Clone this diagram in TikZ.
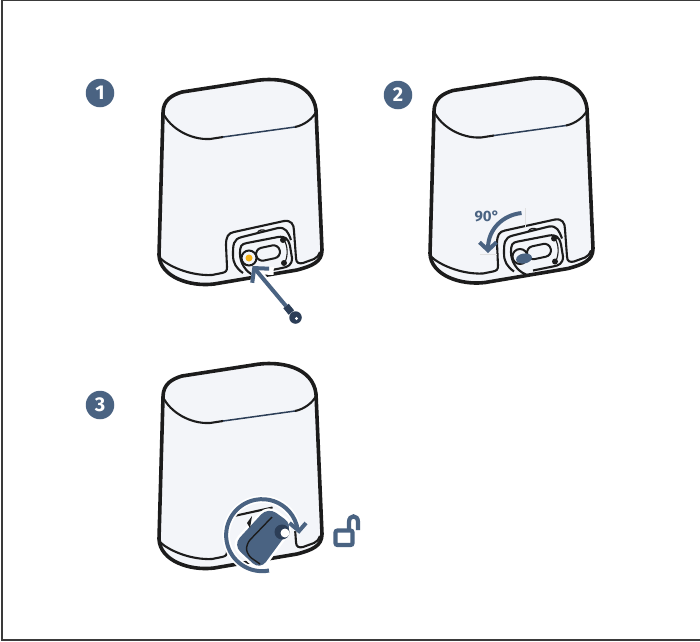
\documentclass[tikz,border=0pt]{standalone}
\usepackage{fontspec}
\setmainfont{Fira Sans}
\usetikzlibrary{arrows.meta, positioning, shapes.geometric}
\definecolor{dockink}{HTML}{1C1C1C}
\definecolor{dockbg}{HTML}{F3F5F9}
\definecolor{dockblue}{HTML}{4A6382}
\definecolor{docknavy}{HTML}{2C3E57}
\definecolor{dockamber}{HTML}{F5B21A}
\definecolor{dockframe}{HTML}{3A3A3A}
\tikzset{
  badge/.style={circle, fill=dockblue, text=white, minimum size=28.5pt, inner sep=0pt, font=\fontsize{20}{20}\selectfont\bfseries},
  shell/.style={draw=dockink, line width=3.6pt, line join=round},
  thinline/.style={draw=dockink, line width=2.1pt, line join=round},
  cueline/.style={draw=dockblue, line width=4pt},
  halo/.style={draw=white, line width=8pt},
  pics/dockbody/.style={code={
    \draw[shell, fill=dockbg] (163,113) .. controls (163,100) and (172,95) .. (182,92) -- (253,81)
      .. controls (280,76) and (313,83) .. (316,110) -- (322,250)
      .. controls (322,262) and (312,266) .. (297,270) -- (214,284)
      .. controls (190,287) and (160,277) .. (159,255) -- cycle;
    \draw[thinline] (163,113) .. controls (170,128) and (190,140) .. (210,139) -- (223,137);
    \draw[draw=docknavy, line width=1.5pt] (223,137) -- (295,127);
    \draw[thinline] (295,127) .. controls (305,125) and (313,118) .. (316,112);
    \draw[thinline] (160,258) .. controls (168,266) and (190,276) .. (212,275) -- (222,273)
      .. controls (226,272) and (227,271) .. (227,267) -- (226,245)
      .. controls (226,237) and (228,233) .. (234,232) -- (284,221)
      .. controls (291,220) and (294,224) .. (294,231) -- (296,258)
      .. controls (296,263) and (299,264) .. (303,263) -- (314,259) .. controls (317,258) and (319,255) .. (320,252);
  }},
  pics/dockplate/.style={code={
    \draw[thinline] (243,273) .. controls (236,268) and (233,263) .. (233,255)
      .. controls (233,245) and (233,239) .. (242,237) -- (278,228)
      .. controls (286,227) and (288,232) .. (291,240);
    \draw[thinline] (255,276) .. controls (245,272) and (240,262) .. (240,254)
      .. controls (240,246) and (241,244) .. (247,243) -- (278,237)
      .. controls (285,236) and (288,238) .. (290,246) -- (292,258)
      .. controls (292,265) and (288,267) .. (282,268) -- (262,272);
    \draw[thinline, line width=1.2pt] (257,233) .. controls (259,229.5) and (263,229) .. (266,231);
    \draw[thinline, line width=1.1pt] (284,240) .. controls (288,246) and (288,256) .. (285,262);
    \node[draw=dockink, line width=2pt, rounded corners=6.3pt, minimum width=24pt, minimum height=13pt, inner sep=0pt, rotate=12] (slot) at (268,253) {};
    \node[circle, fill=dockink, minimum size=6pt, inner sep=0pt] (screwa) at (283,240) {};
    \node[circle, fill=dockink, minimum size=6pt, inner sep=0pt] (screwb) at (284,263) {};
    \node[circle, draw=dockink, line width=2pt, minimum size=15pt, inner sep=0pt] (port) at (249,258) {};
  }}
}
\begin{document}
\begin{tikzpicture}[x=1pt, y=-1pt]
\useasboundingbox (0,0) rectangle (700,641);
\draw[dockframe, line width=1.2pt] (700,0.5) -- (2,0.5) -- (2,640) -- (700,640);

\node[badge] (stepone) at (100,93) {1};
\node[badge] (steptwo) at (398,95) {2};
\node[badge] (stepthree) at (100,405) {3};

\pic (dockone) at (0,0) {dockbody};
\pic (dockone) at (0,0) {dockplate};
\pic (docktwo) at (271,-1.5) {dockbody};
\pic (docktwo) at (271,-1.5) {dockplate};
\pic (dockthree) at (0,284) {dockbody};

\node[circle, fill=dockamber, minimum size=7pt, inner sep=0pt] (hole) at (249,258) {};
\coordinate (pinend) at (286,306);
\coordinate (pintip) at (252.5,266);
\draw[halo, -{Straight Barb[length=12pt,width=26pt,line width=8pt]}] (pinend) -- (pintip);
\draw[cueline, -{Straight Barb[length=10pt,width=22pt,line width=4pt]}] (pinend) -- (pintip);
\node[circle, fill=docknavy, minimum size=12.5pt, inner sep=0pt] (pinhead) at (295.5,317.5) {};
\draw[docknavy, line width=7pt] (pinend) -- (pinhead);
\node[circle, fill=white, minimum size=3.2pt, inner sep=0pt] (pineye) at (296.5,318.5) {};

\node[ellipse, fill=dockblue, minimum width=16pt, minimum height=10pt, inner sep=0pt, rotate=10] (keytwo) at (524,258.5) {};
\node[font=\fontsize{15}{15}\selectfont\bfseries, text=dockblue, inner sep=0pt] (anglelabel) at (487,216) {90°};
\coordinate (turnstart) at (521.5,213);
\coordinate (turnend) at (488,253);
\draw[black!12, line width=0.6pt] (525,208) -- (525,228);
\draw[black!12, line width=0.6pt] (480,254.5) -- (497,254.5);
\draw[cueline, -{Straight Barb[length=8pt,width=17pt,line width=4pt]}] (turnstart) .. controls (503,215) and (488,229) .. (turnend);

\fill[dockbg] (271,502) -- (302,502) -- (302,531) -- (280,531) -- cycle;
\draw[white, line width=5pt, rounded corners=10pt] (268,507) -- (293,525) -- (260,570) -- (233,545) -- cycle;
\fill[dockblue, rounded corners=10pt] (268,507) -- (293,525) -- (260,570) -- (233,545) -- cycle;
\fill[dockink] (247,523) -- (252,516) -- (250,528) -- cycle;
\draw[dockink, line width=1.4pt, rounded corners=6pt] (272,517) -- (246,544) -- (247,555) -- (260,564);
\node[circle, fill=docknavy, minimum size=15pt, inner sep=0pt] (keynub) at (282,532) {};
\node[circle, fill=white, minimum size=9pt, inner sep=0pt] (keyeye) at (285,533) {};

\coordinate (ringstart) at (269,570.5);
\coordinate (ringend) at (299,531);
\draw[white, line width=7.5pt] (ringstart) arc[start angle=-79, delta angle=-272, radius=36pt];
\draw[cueline] (ringstart) arc[start angle=-79, delta angle=-272, radius=36pt] coordinate (ringtip);
\draw[cueline] (289.5,523) -- (ringend) -- (306,523);

\draw[cueline, rounded corners=2pt, line width=4.2pt] (335.5,530.5) rectangle (352.5,545);
\draw[cueline, line width=4.2pt] (349,530) -- (349,522) .. controls (349,514.5) and (358,514.5) .. (358,522) -- (358,530);
\end{tikzpicture}
\end{document}
